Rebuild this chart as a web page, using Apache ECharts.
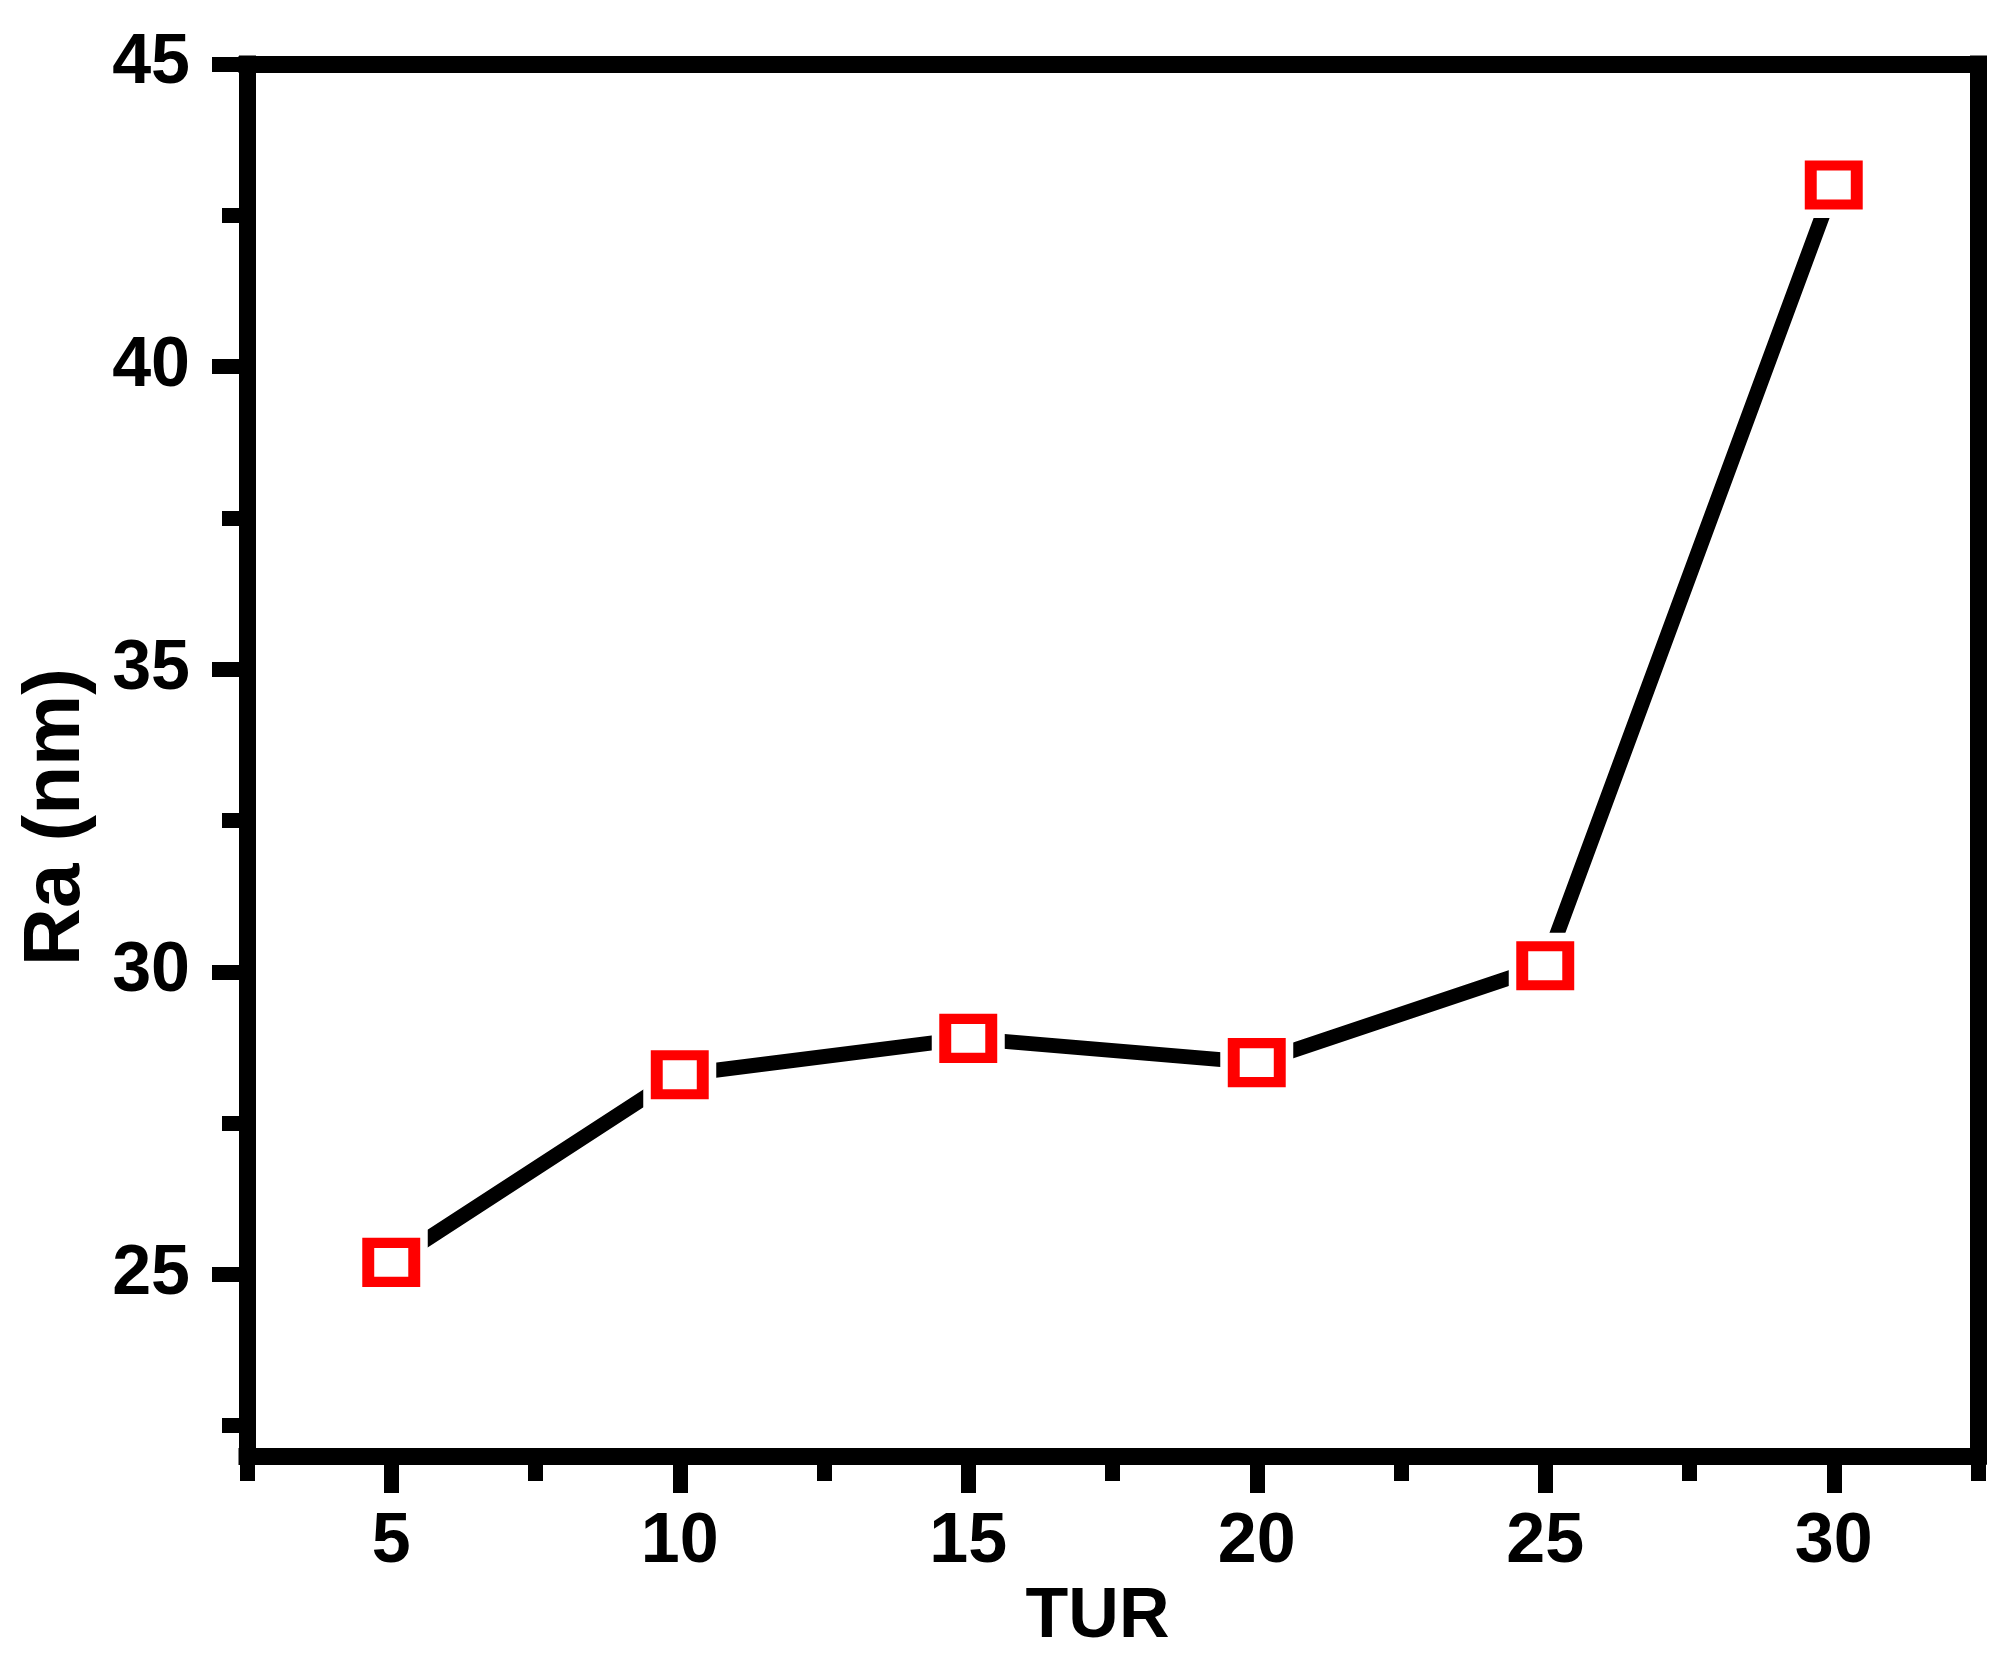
<!DOCTYPE html>
<html>
<head>
<meta charset="utf-8">
<script src="https://cdn.jsdelivr.net/npm/echarts@6/dist/echarts.min.js"></script>
<style>
html,body{margin:0;padding:0;background:#fff;}
#chart{width:2011px;height:1669px;}
</style>
</head>
<body>
<div id="chart"></div>
<script>
const turValues = [5, 10, 15, 20, 25, 30];
const raValues = [25.2, 28.3, 28.9, 28.5, 30.1, 43.0];
const xMajorTicks = [5, 10, 15, 20, 25, 30];
const xMinorTicks = [2.5, 7.5, 12.5, 17.5, 22.5, 27.5, 32.5];
const yMajorTicks = [25, 30, 35, 40, 45];
const yMinorTicks = [22.5, 27.5, 32.5, 37.5, 42.5];
const xName = 'TUR';
const yName = 'Ra (nm)';

const points = turValues.map((x, i) => [x, raValues[i]]);
const FONT = '"Liberation Sans", Arial, sans-serif';
const AXW = 17;
const lineStyleAxis = {color: '#000', width: AXW, cap: 'square'};

const chart = echarts.init(document.getElementById('chart'), null, {renderer: 'canvas'});
chart.setOption({
  animation: false,
  backgroundColor: '#fff',
  grid: {left: 247, top: 64, right: 33, bottom: 213, containLabel: false},
  xAxis: [
    {
      type: 'value', min: 2.5, max: 32.5, position: 'bottom',
      name: xName, nameLocation: 'middle', nameGap: 106,
      nameTextStyle: {fontFamily: FONT, fontSize: 70, fontWeight: 'bold', color: '#000', padding: [0, 30, 0, 0]},
      axisLine: {show: true, lineStyle: lineStyleAxis},
      axisTick: {show: true, inside: false, length: 37, customValues: xMajorTicks, lineStyle: {color: '#000', width: 15}},
      axisLabel: {show: true, margin: 52, customValues: xMajorTicks, fontFamily: FONT, fontSize: 70, fontWeight: 'bold', color: '#000'},
      splitLine: {show: false}
    },
    {
      type: 'value', min: 2.5, max: 32.5, position: 'bottom',
      axisLine: {show: false},
      axisTick: {show: true, inside: false, length: 25, customValues: xMinorTicks, lineStyle: {color: '#000', width: 15}},
      axisLabel: {show: false},
      splitLine: {show: false}
    },
    {
      type: 'value', min: 2.5, max: 32.5, position: 'top',
      axisLine: {show: true, lineStyle: lineStyleAxis},
      axisTick: {show: false}, axisLabel: {show: false}, splitLine: {show: false}
    }
  ],
  yAxis: [
    {
      type: 'value', min: 22, max: 45, position: 'left',
      name: yName, nameLocation: 'middle', nameGap: 150, nameRotate: 90,
      nameTextStyle: {fontFamily: FONT, fontSize: 80, fontWeight: 'bold', color: '#000', padding: [0, 114, 0, 0]},
      axisLine: {show: true, lineStyle: lineStyleAxis},
      axisTick: {show: true, inside: false, length: 35, customValues: yMajorTicks, lineStyle: {color: '#000', width: 15}},
      axisLabel: {show: true, margin: 57, customValues: yMajorTicks, fontFamily: FONT, fontSize: 70, fontWeight: 'bold', color: '#000', padding: [0, 0, 12, 0]},
      splitLine: {show: false}
    },
    {
      type: 'value', min: 22, max: 45, position: 'left',
      axisLine: {show: false},
      axisTick: {show: true, inside: false, length: 25, customValues: yMinorTicks, lineStyle: {color: '#000', width: 15}},
      axisLabel: {show: false},
      splitLine: {show: false}
    },
    {
      type: 'value', min: 22, max: 45, position: 'right',
      axisLine: {show: true, lineStyle: lineStyleAxis},
      axisTick: {show: false}, axisLabel: {show: false}, splitLine: {show: false}
    }
  ],
  series: [
    {
      type: 'line', data: points, xAxisIndex: 0, yAxisIndex: 0,
      symbol: 'none', z: 2,
      lineStyle: {color: '#000', width: 15}
    },
    {
      type: 'scatter', data: points, xAxisIndex: 0, yAxisIndex: 0,
      symbol: 'rect', symbolSize: [73, 66], z: 3,
      itemStyle: {color: '#fff', opacity: 1}
    },
    {
      type: 'scatter', data: points, xAxisIndex: 0, yAxisIndex: 0,
      symbol: 'rect', symbolSize: [46, 39], z: 4,
      itemStyle: {color: '#fff', borderColor: '#ff0000', borderWidth: 11, opacity: 1}
    }
  ]
});
</script>
</body>
</html>
